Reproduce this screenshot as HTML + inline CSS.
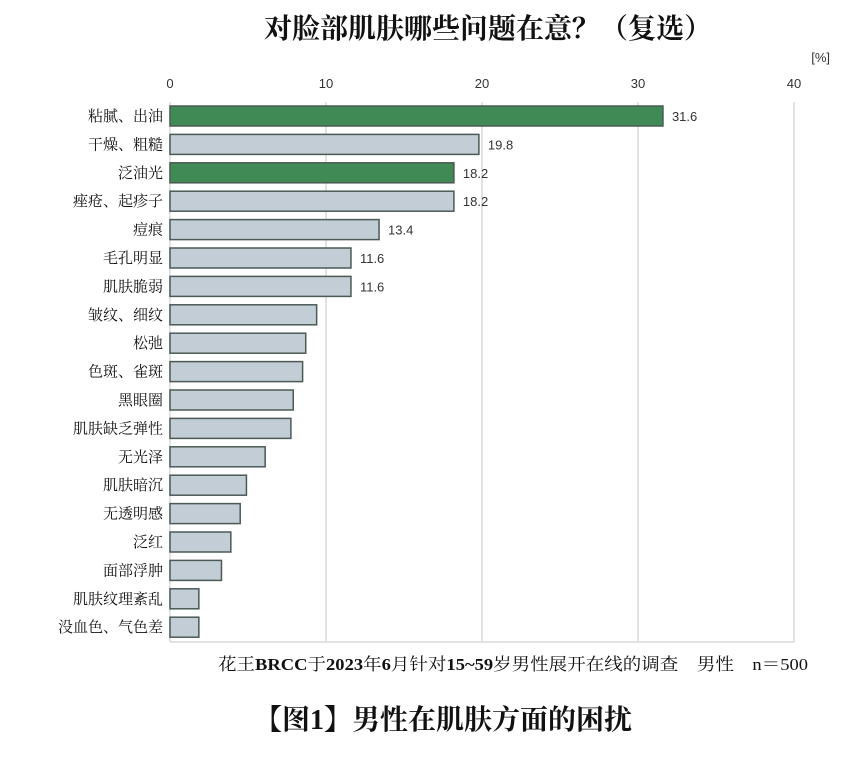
<!DOCTYPE html>
<html><head><meta charset="utf-8"><style>
body{margin:0;background:#fff;width:867px;height:754px;overflow:hidden}
text{font-family:"Liberation Serif","Noto Serif CJK SC",serif}
</style></head><body>
<svg width="867" height="754" xmlns="http://www.w3.org/2000/svg">
<text x="488" y="38" font-size="28" text-anchor="middle" font-weight="bold" fill="#111">对脸部肌肤哪些问题在意？（复选）</text>
<text x="830" y="62" font-size="13" text-anchor="end" fill="#333" style="font-family:'Liberation Sans',sans-serif">[%]</text>
<g font-size="13" fill="#333" text-anchor="middle" style="font-family:'Liberation Sans',sans-serif">
<text x="170" y="88" style="font-family:'Liberation Sans',sans-serif">0</text><text x="326" y="88" style="font-family:'Liberation Sans',sans-serif">10</text><text x="482" y="88" style="font-family:'Liberation Sans',sans-serif">20</text><text x="638" y="88" style="font-family:'Liberation Sans',sans-serif">30</text><text x="794" y="88" style="font-family:'Liberation Sans',sans-serif">40</text>
</g>
<g stroke="#d9d9d9" stroke-width="1.5">
<line x1="170" y1="102" x2="170" y2="642"/><line x1="326" y1="102" x2="326" y2="642"/><line x1="482" y1="102" x2="482" y2="642"/><line x1="638" y1="102" x2="638" y2="642"/><line x1="794" y1="102" x2="794" y2="642"/>
<line x1="170" y1="642" x2="794" y2="642"/>
</g>
<g id="bars" stroke="#4a5a55" stroke-width="1.5"></g>
<g id="labels" font-size="15" fill="#111" text-anchor="end"></g>
<g id="vals" font-size="13" fill="#333"></g>
<text x="808" y="670" font-size="17" text-anchor="end" fill="#111" textLength="590" lengthAdjust="spacingAndGlyphs">花王<tspan font-weight="bold">BRCC</tspan>于<tspan font-weight="bold">2023</tspan>年<tspan font-weight="bold">6</tspan>月针对<tspan font-weight="bold">15~59</tspan>岁男性展开在线的调查　男性　n＝500</text>
<text x="443" y="729" font-size="28" text-anchor="middle" font-weight="bold" fill="#111">【图1】男性在肌肤方面的困扰</text>
</svg>
<script>
var d=[["粘腻、出油",31.6,1,"31.6"],["干燥、粗糙",19.8,0,"19.8"],["泛油光",18.2,1,"18.2"],["痤疮、起疹子",18.2,0,"18.2"],["痘痕",13.4,0,"13.4"],["毛孔明显",11.6,0,"11.6"],["肌肤脆弱",11.6,0,"11.6"],["皱纹、细纹",9.4,0],["松弛",8.7,0],["色斑、雀斑",8.5,0],["黑眼圈",7.9,0],["肌肤缺乏弹性",7.75,0],["无光泽",6.1,0],["肌肤暗沉",4.9,0],["无透明感",4.5,0],["泛红",3.9,0],["面部浮肿",3.3,0],["肌肤纹理紊乱",1.85,0],["没血色、气色差",1.85,0]];
var ns="http://www.w3.org/2000/svg",b=document.getElementById("bars"),l=document.getElementById("labels"),v=document.getElementById("vals");
d.forEach(function(r,i){var cy=116+i*28.4;
var e=document.createElementNS(ns,"rect");e.setAttribute("x",170);e.setAttribute("y",cy-10);e.setAttribute("width",r[1]*15.6);e.setAttribute("height",20);e.setAttribute("fill",r[2]?"#3f8a55":"#c3cdd6");b.appendChild(e);
var t=document.createElementNS(ns,"text");t.setAttribute("x",163);t.setAttribute("y",cy+5);t.textContent=r[0];l.appendChild(t);
if(r[3]){var s=document.createElementNS(ns,"text");s.setAttribute("x",170+r[1]*15.6+9);s.setAttribute("y",cy+5);s.setAttribute("style","font-family:'Liberation Sans',sans-serif");s.textContent=r[3];v.appendChild(s);}
});
</script>
</body></html>
